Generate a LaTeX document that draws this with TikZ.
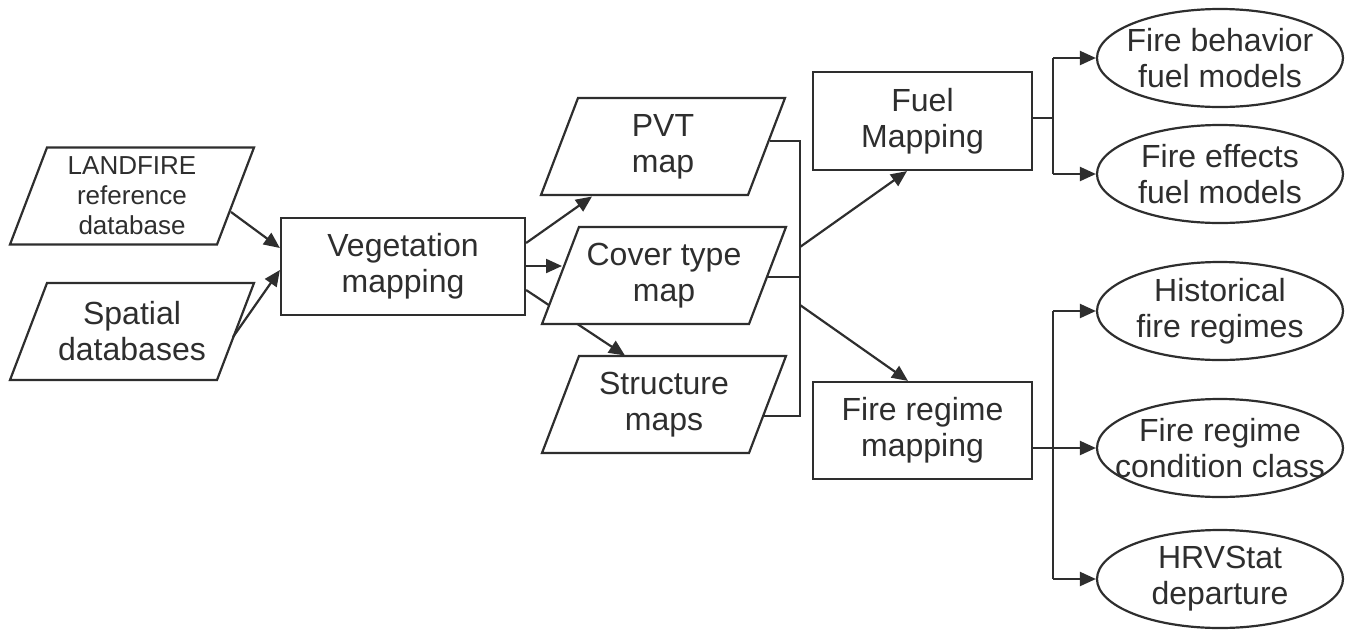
\documentclass[tikz,border=0pt]{standalone}
\usepackage{fontspec}
\setmainfont{Liberation Sans}
\usetikzlibrary{arrows.meta,calc,backgrounds,shapes.geometric}
\definecolor{ink}{HTML}{2E2E2E}
\tikzset{
  shapeline/.style={draw=ink, line width=2.2pt, line join=miter},
  txt/.style={text=ink, align=center, inner sep=0pt, font=\fontsize{32}{36}\selectfont},
  smalltxt/.style={text=ink, align=center, inner sep=0pt, font=\fontsize{26}{30}\selectfont},
  boxnode/.style={shapeline, txt, rectangle, fill=white},
  ovalnode/.style={shapeline, ellipse, fill=white, minimum width=246pt, minimum height=98pt, inner sep=0pt},
  conn/.style={draw=ink, line width=2.2pt},
  arr/.style={conn, -{Triangle[length=16pt,width=14pt]}}
}
\newcommand\paral[5]{%
  \draw[shapeline, fill=white] (#2-85,#3-48.5) -- (#2+122,#3-48.5) -- (#2+85,#3+48.5) -- (#2-122,#3+48.5) -- cycle;
  \node[#5] (#1) at (#2,#3) {#4};}
\begin{document}
\begin{tikzpicture}[x=1pt,y=-1pt]
\useasboundingbox (0,0) rectangle (1345,633);
% parallelograms
\paral{land}{132}{196}{LANDFIRE\\reference\\database}{smalltxt}
\paral{spat}{132}{331.5}{Spatial\\databases}{txt}
\paral{pvt}{663}{146.5}{PVT\\map}{txt}
\paral{cover}{664}{275.5}{Cover type\\map}{txt}
\paral{struct}{664}{404.5}{Structure\\maps}{txt}
% boxes
\node[boxnode, minimum width=244pt, minimum height=97pt] (veg) at (403,266.5) {Vegetation\\mapping};
\node[boxnode, minimum width=219pt, minimum height=98pt] (fuel) at (922.5,121) {Fuel\\Mapping};
\node[boxnode, minimum width=219pt, minimum height=97pt] (fireg) at (922.5,430.5) {Fire regime\\mapping};
% ovals
\node[ovalnode, label={[txt]center:{Fire behavior\\fuel models}}] (fb) at (1220,58) {};
\node[ovalnode, label={[txt]center:{Fire effects\\fuel models}}] (fe) at (1220,174) {};
\node[ovalnode, label={[txt]center:{Historical\\fire regimes}}] (hist) at (1220,311) {};
\node[ovalnode, label={[txt]center:{Fire regime\\condition class}}] (frcc) at (1220,448) {};
\node[ovalnode, label={[txt]center:{HRVStat\\departure}}] (hrv) at (1220,579) {};
% inputs
\draw[arr] ($(land.center)+(99,16)$) -- ($(veg.west)+(0,-18.5)$);
\draw[arr] ($(spat.center)+(101,5.5)$) -- ($(veg.west)+(0,3.5)$);
% vegetation outputs
\draw[arr] ($(veg.east)+(0,-23.5)$) -- ($(pvt.center)+(-71,50)$);
\draw[arr] ($(veg.east)+(0,-0.5)$) -- ($(cover.center)+(-102,-9.5)$);
\begin{scope}[on background layer]
\draw[arr] ($(veg.east)+(0,23.5)$) -- ($(struct.center)+(-39,-49)$);
\end{scope}
% bracket of maps
\coordinate (busM) at (800,277);
\draw[conn] ($(pvt.center)+(107,-5.5)$) -- (busM |- 0,141) -- (busM |- 0,416) -- ($(struct.center)+(100,11.5)$);
\draw[conn] ($(cover.center)+(104,1.5)$) -- (busM);
\draw[arr] (busM |- 0,247) -- ($(fuel.south)+(-15.5,0)$);
\draw[arr] (busM |- 0,305) -- ($(fireg.north)+(-14.5,0)$);
% fuel outputs
\coordinate (busF) at (1053,118);
\draw[conn] ($(fuel.east)+(0,-3)$) -- (busF);
\draw[conn] (busF |- fb.west) -- (busF |- fe.west);
\draw[arr] (busF |- fb.west) -- (fb.west);
\draw[arr] (busF |- fe.west) -- (fe.west);
% fire regime outputs
\coordinate (busR) at (1053,448);
\draw[conn] (busR |- hist.west) -- (busR |- hrv.west);
\draw[arr] ($(fireg.east)+(0,17.5)$) -- (frcc.west);
\draw[arr] (busR |- hist.west) -- (hist.west);
\draw[arr] (busR |- hrv.west) -- (hrv.west);
\end{tikzpicture}
\end{document}
